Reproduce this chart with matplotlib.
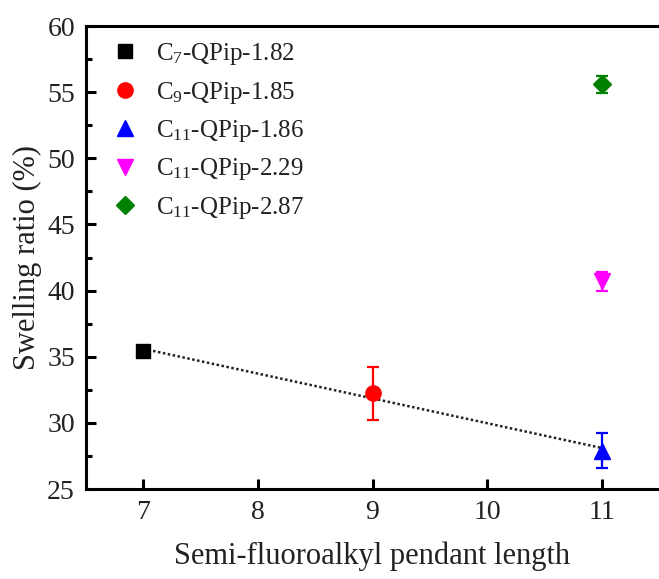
import matplotlib
matplotlib.use("Agg")
import matplotlib.pyplot as plt
from matplotlib.ticker import MultipleLocator
import numpy as np

plt.rcParams['font.family'] = ['Liberation Serif', 'DejaVu Serif']
plt.rcParams['mathtext.fontset'] = 'custom'
plt.rcParams['mathtext.rm'] = 'Liberation Serif'
plt.rcParams['mathtext.it'] = 'Liberation Serif:italic'

labels = [r'C$_{\mathrm{7}}$-QPip-1.82', r'C$_{\mathrm{9}}$-QPip-1.85',
          r'C$_{\mathrm{11}}$-QPip-1.86', r'C$_{\mathrm{11}}$-QPip-2.29',
          r'C$_{\mathrm{11}}$-QPip-2.87']
x_vals = [7, 9, 11, 11, 11]
y_vals = [35.4, 32.25, 27.9, 40.7, 55.6]
y_err = [0.3, 2.0, 1.3, 0.7, 0.65]
colors = ['black', '#ff0000', '#0000ff', '#ff00ff', '#008000']
markers = ['s', 'o', '^', 'v', 'D']
msizes = [10, 11, 11, 11, 9]

fit_x = [7, 9, 11]
fit_y = [35.4, 32.25, 27.9]

fig = plt.figure(figsize=(6.59, 5.79), dpi=100)
ax = fig.add_axes([86/659, 1-489/579, 1-86/659, (489-26)/579])

# linear fit dotted line
p = np.polyfit(fit_x, fit_y, 1)
xx = np.array([7, 11])
ax.plot(xx, np.polyval(p, xx), ls=(0, (1, 1.0)), color='#222222', lw=1.8, zorder=1)

for x, y, e, c, m, ms, lab in zip(x_vals, y_vals, y_err, colors, markers, msizes, labels):
    ax.errorbar([x], [y], yerr=[e], fmt=m, color=c, ms=ms, capsize=4.5,
                elinewidth=1.6, capthick=1.6, label=lab, zorder=3)

ax.set_xlim(6.5, 11.5)
ax.set_ylim(25, 60)
ax.xaxis.set_major_locator(MultipleLocator(1))
ax.yaxis.set_major_locator(MultipleLocator(5))
ax.yaxis.set_minor_locator(MultipleLocator(2.5))

for s in ['left', 'bottom', 'top']:
    ax.spines[s].set_linewidth(2.2)
ax.spines['right'].set_visible(False)

ax.tick_params(axis='both', which='major', direction='in', length=7, width=2.2,
               labelsize=20, pad=8)
ax.tick_params(axis='y', which='minor', direction='in', length=4, width=2.2)
ax.tick_params(top=False, right=False)

ax.set_xlabel('Semi-fluoroalkyl pendant length', fontsize=22, labelpad=12, color='#222222')
ax.set_ylabel('Swelling ratio (%)', fontsize=22, labelpad=4, color='#222222')
for t in ax.get_xticklabels() + ax.get_yticklabels():
    t.set_color('#222222')

handles, labs = ax.get_legend_handles_labels()
handles = [h[0] for h in handles]
leg = ax.legend(handles, labs, loc='upper left', frameon=False, fontsize=18,
                handlelength=1.0, handletextpad=0.75, labelspacing=0.5,
                borderaxespad=0.2, bbox_to_anchor=(0.02, 1.0))
for t in leg.get_texts():
    t.set_color('#222222')

fig.savefig('out.png', dpi=100)
